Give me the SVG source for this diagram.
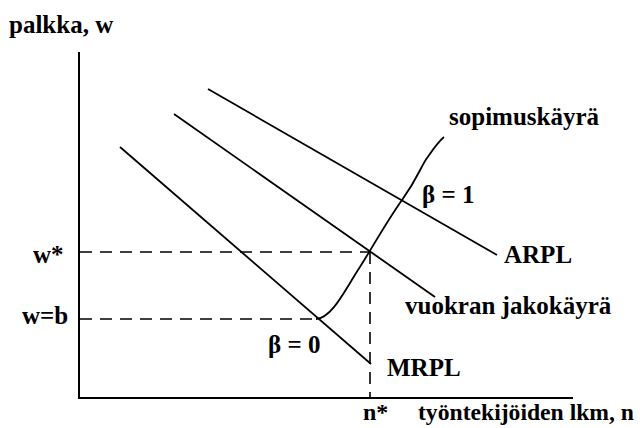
<svg xmlns="http://www.w3.org/2000/svg" width="640" height="428" viewBox="0 0 640 428">
<style>
.ln{stroke:#000;stroke-width:1.8;fill:none}
.ax{stroke:#000;stroke-width:2;fill:none}
.ds{stroke:#000;stroke-width:1.6;fill:none;stroke-dasharray:12 8}
text{font-family:"Liberation Serif","Times New Roman",serif;font-weight:bold;font-size:25px;fill:#000}
.sm{font-size:24px}
</style>
<rect width="640" height="428" fill="#fff"/>
<g id="axes">
<path class="ax" d="M79,52 V398 H573"/>
<text x="9" y="33">palkka, w</text>
<text class="sm" x="418" y="420" textLength="216" lengthAdjust="spacingAndGlyphs">työntekijöiden lkm, n</text>
</g>
<g id="connectors">
<path class="ds" d="M80,252 H370"/>
<path class="ds" d="M80,319 H316"/>
<path class="ds" d="M370,252 V398"/>
</g>
<g id="MRPL">
<path class="ln" d="M120,147 L371,364"/>
<text x="387" y="376">MRPL</text>
</g>
<g id="vuokran">
<path class="ln" d="M174,114 L435,297"/>
<text x="405" y="314">vuokran jakokäyrä</text>
</g>
<g id="ARPL">
<path class="ln" d="M208,89 L497,255"/>
<text x="504" y="263">ARPL</text>
</g>
<g id="sopimus">
<path class="ln" d="M316,319 C332,318 345,290 358,270 S385,224 402,200 S420,168 427,158 S438,142 444,137"/>
<text x="449" y="125">sopimuskäyrä</text>
</g>
<g id="labels">
<text x="422" y="203">β = 1</text>
<text x="268" y="353">β = 0</text>
<text x="33" y="263">w*</text>
<text x="22" y="324">w=b</text>
<text class="sm" x="363" y="420">n*</text>
</g>
</svg>
